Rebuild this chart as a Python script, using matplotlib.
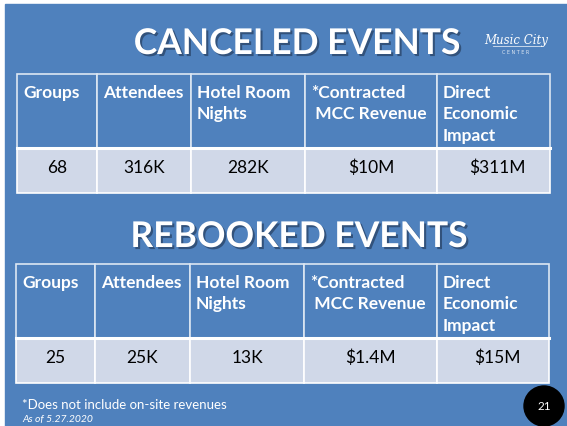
import matplotlib
matplotlib.use("Agg")
import matplotlib.pyplot as plt
import matplotlib.patheffects as pe
from matplotlib.patches import Rectangle, Circle

# data
headers = ["Groups", "Attendees", "Hotel Room\nNights", "*Contracted\n MCC Revenue",
           "Direct\nEconomic\nImpact"]
canceled = ["68", "316K", "282K", "$10M", "$311M"]
rebooked = ["25", "25K", "13K", "$1.4M", "$15M"]
titles = ["CANCELED EVENTS", "REBOOKED EVENTS"]
footnote = "*Does not include on-site revenues"
as_of = "As of 5.27.2020"
page_no = "21"

W, H = 567, 427
blue = "#4F81BD"
row_bg = "#D0D8E8"
font = "Lato"

fig = plt.figure(figsize=(W / 100, H / 100), dpi=100)
ax = fig.add_axes([0, 0, 1, 1])
ax.set_xlim(0, W)
ax.set_ylim(H, 0)
ax.axis("off")

ax.add_patch(Rectangle((5, 5), W - 5, H - 5, color=blue, zorder=0))


def draw_table(cols, top, mid, bottom, values):
    # header cells + data cells
    for i in range(len(cols) - 1):
        x0, x1 = cols[i], cols[i + 1]
        ax.add_patch(Rectangle((x0, top), x1 - x0, mid - top, facecolor=blue,
                               edgecolor="#DCE6F2", lw=1.2, zorder=1))
        ax.add_patch(Rectangle((x0, mid), x1 - x0, bottom - mid, facecolor=row_bg,
                               edgecolor="white", lw=1.2, zorder=1))
        ax.text(x0 + 6, top + 10, headers[i], color="white", fontsize=12.5,
                fontweight="bold", family=font, ha="left", va="top",
                linespacing=1.42, zorder=3)
        ax.text((x0 + x1) / 2 + (4 if i == 4 else 0), mid + 19, values[i],
                color="black", fontsize=12.5, family=font, ha="center",
                va="center", zorder=3)
    ax.plot([cols[0], cols[-1]], [mid, mid], color="white", lw=2.2, zorder=2)


def draw_title(txt, x, y):
    ax.text(x, y, txt, color="white", fontsize=25.5, fontweight="bold", family=font,
            ha="center", va="baseline", zorder=3,
            path_effects=[pe.withSimplePatchShadow(offset=(1.5, -1.5),
                                                   shadow_rgbFace="#1F3350", alpha=0.6)])


draw_title(titles[0], 297, 55)
draw_table([17, 97, 191, 305, 437, 550], 75, 149, 194, canceled)

draw_title(titles[1], 299, 248)
draw_table([16, 95, 190, 304, 437, 549], 265, 339, 384, rebooked)

# logo
ax.text(516, 44, "Music City", color="white", fontsize=8.5, family="DejaVu Serif",
        style="italic", ha="center", va="baseline", zorder=3)
ax.text(516, 54, "C E N T E R", color="#DCE6F2", fontsize=3.5, family="DejaVu Sans",
        ha="center", va="baseline", zorder=3)
ax.plot([493, 540], [47, 47], color="#DCE6F2", lw=0.6, zorder=3)

# footer
ax.text(22, 405, footnote, color="white", fontsize=9.5, family=font, ha="left",
        va="center", zorder=3)
ax.text(22, 420, as_of, color="white", fontsize=7.5, family=font, style="italic",
        ha="left", va="center", zorder=3)
ax.add_patch(Circle((544, 407), 20, color="black", zorder=3))
ax.text(544, 407, page_no, color="white", fontsize=8.5, family=font,
        ha="center", va="center", zorder=4)

fig.savefig("out.png", dpi=100)
